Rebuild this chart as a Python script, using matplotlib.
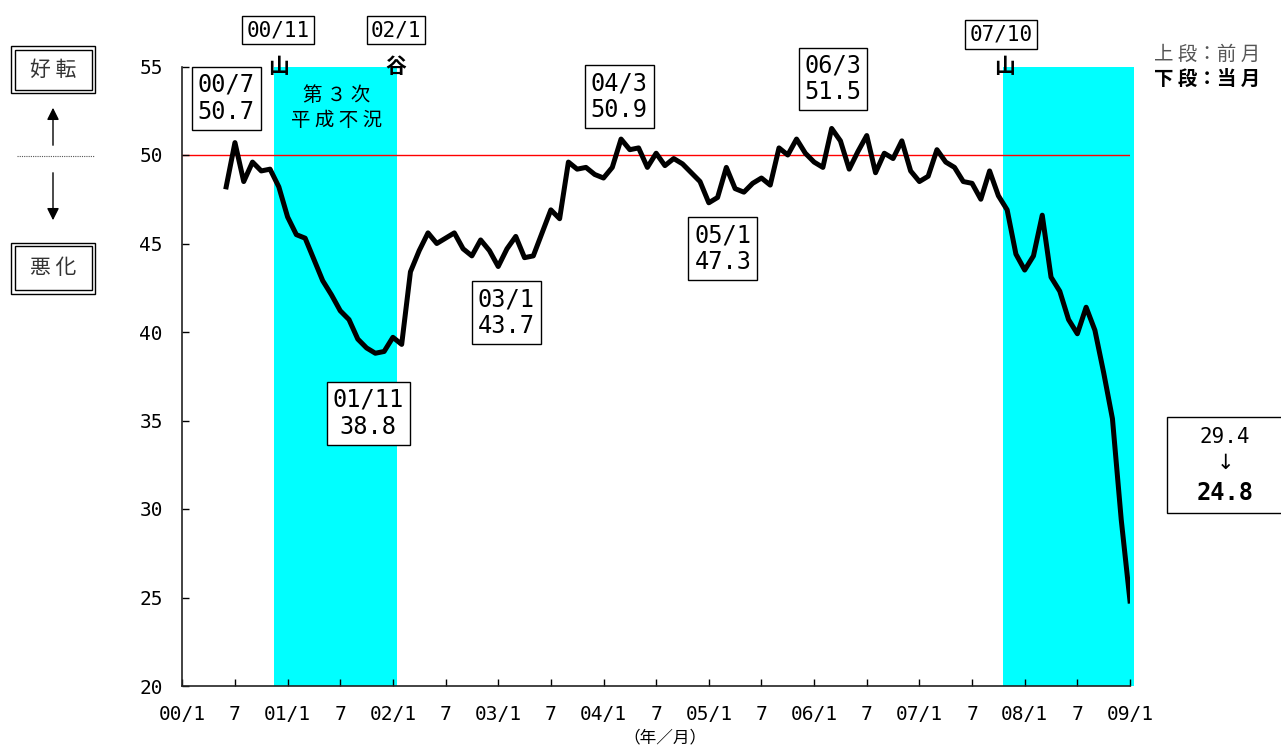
import numpy as np
import matplotlib
matplotlib.use("Agg")
import matplotlib.pyplot as plt
from matplotlib.patches import Rectangle, FancyArrowPatch
from matplotlib.lines import Line2D

plt.rcParams["font.family"] = ["Noto Sans CJK JP", "DejaVu Sans"]

# ==========================================
# DATA  (month index: 0 = 2000/1)
# ==========================================

month_idx = np.arange(5, 109)   # 2000/6 .. 2009/1

di_values = [
    48.2, 50.7, 48.5, 49.6, 49.1, 49.2, 48.2,                        # 00/6-00/12
    46.5, 45.5, 45.3, 44.1, 42.9, 42.1, 41.2, 40.7, 39.6, 39.1, 38.8, 38.9,  # 01
    39.7, 39.3, 43.4, 44.6, 45.6, 45.0, 45.3, 45.6, 44.7, 44.3, 45.2, 44.6,  # 02
    43.7, 44.7, 45.4, 44.2, 44.3, 45.6, 46.9, 46.4, 49.6, 49.2, 49.3, 48.9,  # 03
    48.7, 49.3, 50.9, 50.3, 50.4, 49.3, 50.1, 49.4, 49.8, 49.5, 49.0, 48.5,  # 04
    47.3, 47.6, 49.3, 48.1, 47.9, 48.4, 48.7, 48.3, 50.4, 50.0, 50.9, 50.1,  # 05
    49.6, 49.3, 51.5, 50.8, 49.2, 50.2, 51.1, 49.0, 50.1, 49.8, 50.8, 49.1,  # 06
    48.5, 48.8, 50.3, 49.6, 49.3, 48.5, 48.4, 47.5, 49.1, 47.7, 46.9, 44.4,  # 07
    43.5, 44.3, 46.6, 43.1, 42.3, 40.7, 39.9, 41.4, 40.1, 37.7, 35.1, 29.4,  # 08
    24.8,                                                             # 09/1
]

# labelled turning points: month index -> label
peak_labels = {6: "00/7", 22: "01/11", 36: "03/1", 50: "04/3", 60: "05/1", 74: "06/3"}

# recession periods (peak month, trough month)
recessions = [(10, 24), (93, 108)]
turn_labels = [("00/11", "山"), ("02/1", "谷"), ("07/10", "山")]

xtick_pos = np.arange(0, 109, 6)
xtick_labels = [f"{m // 12:02d}/1" if m % 12 == 0 else "7" for m in xtick_pos]

series = dict(zip(month_idx, di_values))

# ==========================================
# FIGURE
# ==========================================

W, H = 1281, 747
fig = plt.figure(figsize=(W / 100, H / 100), dpi=100)
ax = fig.add_axes([182.3 / W, 1 - 686 / H, (1130 - 182.3) / W, (686 - 66.5) / H])

def fx(x):
    return x / W

def fy(y):
    return 1 - y / H

MONO = "DejaVu Sans Mono"

for start, end in recessions:
    ax.axvspan(start + 0.5, end + 0.5, color="#00FFFF", lw=0, zorder=0, clip_on=False)

ax.axhline(50, color="#FF0000", lw=1.0, zorder=1)
ax.plot(month_idx, di_values, color="black", lw=3.6, zorder=3)

ax.set_xlim(0, 108)
ax.set_ylim(20, 55)
ax.set_xticks(xtick_pos)
ax.set_xticklabels(xtick_labels, fontfamily=MONO)
ax.set_yticks(range(20, 56, 5))
ax.set_yticklabels([str(v) for v in range(20, 56, 5)], fontfamily=MONO)
ax.tick_params(direction="in", length=5, width=1, pad=14, labelsize=14, colors="black")

for side in ["top", "right"]:
    ax.spines[side].set_visible(False)
for side in ["left", "bottom"]:
    ax.spines[side].set_linewidth(1.2)
    ax.spines[side].set_color("#222222")

fig.text(fx(665), fy(738), "（年／月）", ha="center", va="center", fontsize=12)

# ==========================================
# PEAK / TROUGH BOXES
# ==========================================

box = dict(boxstyle="square,pad=0.25", fc="white", ec="black", lw=1)

box_pos = {6: (5.0, 53.2), 22: (21.2, 35.4), 36: (36.9, 41.1),
           50: (49.8, 53.3), 60: (61.6, 44.7), 74: (74.15, 54.3)}

for m, lab in peak_labels.items():
    bx, by = box_pos[m]
    ax.text(bx, by, f"{lab}\n{series[m]:.1f}", ha="center", va="center",
            fontsize=17, fontfamily=MONO, linespacing=1.15, bbox=box, zorder=5)

turn_x = [10.9, 24.35, 93.3]
turn_y = [57.06, 57.06, 56.8]
mark_x = [11.0, 24.35, 93.75]
for (lab, mark), tx, ty, mx in zip(turn_labels, turn_x, turn_y, mark_x):
    ax.text(tx, ty, lab, ha="center", va="center", fontsize=15, fontfamily=MONO,
            bbox=dict(boxstyle="square,pad=0.2", fc="white", ec="black", lw=1), clip_on=False)
    ax.text(mx, 55.0, mark, ha="center", va="center", fontsize=15, fontweight="bold", clip_on=False)

ax.text(17.6, 52.65, "第 ３ 次\n平 成 不 況", ha="center", va="center", fontsize=14, linespacing=1.2)

# legend note, upper right
ax.text(110.75, 55.7, "上 段：前 月", ha="left", va="center", fontsize=14, color="#555555", clip_on=False)
ax.text(110.75, 54.3, "下 段：当 月", ha="left", va="center", fontsize=14, color="black",
        fontweight="bold", clip_on=False)

# latest change box on the right
fig.add_artist(Rectangle((fx(1167), fy(513)), fx(1300) - fx(1167), fy(417) - fy(513),
                         fc="white", ec="black", lw=1, transform=fig.transFigure))
fig.text(fx(1225), fy(437), f"{series[107]:.1f}", ha="center", va="center", fontsize=15, fontfamily=MONO)
fig.text(fx(1225), fy(463), "↓", ha="center", va="center", fontsize=15, fontfamily="DejaVu Sans")
fig.text(fx(1225), fy(493), f"{series[108]:.1f}", ha="center", va="center", fontsize=17,
         fontfamily=MONO, fontweight="bold")

# ==========================================
# LEFT SIDE GUIDE (good / bad)
# ==========================================

def double_box(x0, y0, x1, y1, text):
    for inset in (0, 3.5):
        fig.add_artist(Rectangle((fx(x0 + inset), fy(y1 - inset)),
                                 fx(x1 - x0 - 2 * inset), fy(y0 + inset) - fy(y1 - inset),
                                 fc="none", ec="black", lw=1, transform=fig.transFigure))
    fig.text(fx((x0 + x1) / 2), fy((y0 + y1) / 2), text, ha="center", va="center",
             fontsize=15, color="#333333")

double_box(11, 46, 95, 93, "好 転")
double_box(11, 243, 95, 294, "悪 化")

fig.add_artist(FancyArrowPatch((fx(53), fy(148)), (fx(53), fy(105)), transform=fig.transFigure,
                               arrowstyle="-|>", mutation_scale=18, color="black", lw=1))
fig.add_artist(FancyArrowPatch((fx(53), fy(170)), (fx(53), fy(223)), transform=fig.transFigure,
                               arrowstyle="-|>", mutation_scale=18, color="black", lw=1))
fig.add_artist(Line2D([fx(17), fx(94)], [fy(156), fy(156)], transform=fig.transFigure,
                      color="#555555", lw=0.8, ls=(0, (1, 1))))

fig.savefig("out.png", dpi=100)
